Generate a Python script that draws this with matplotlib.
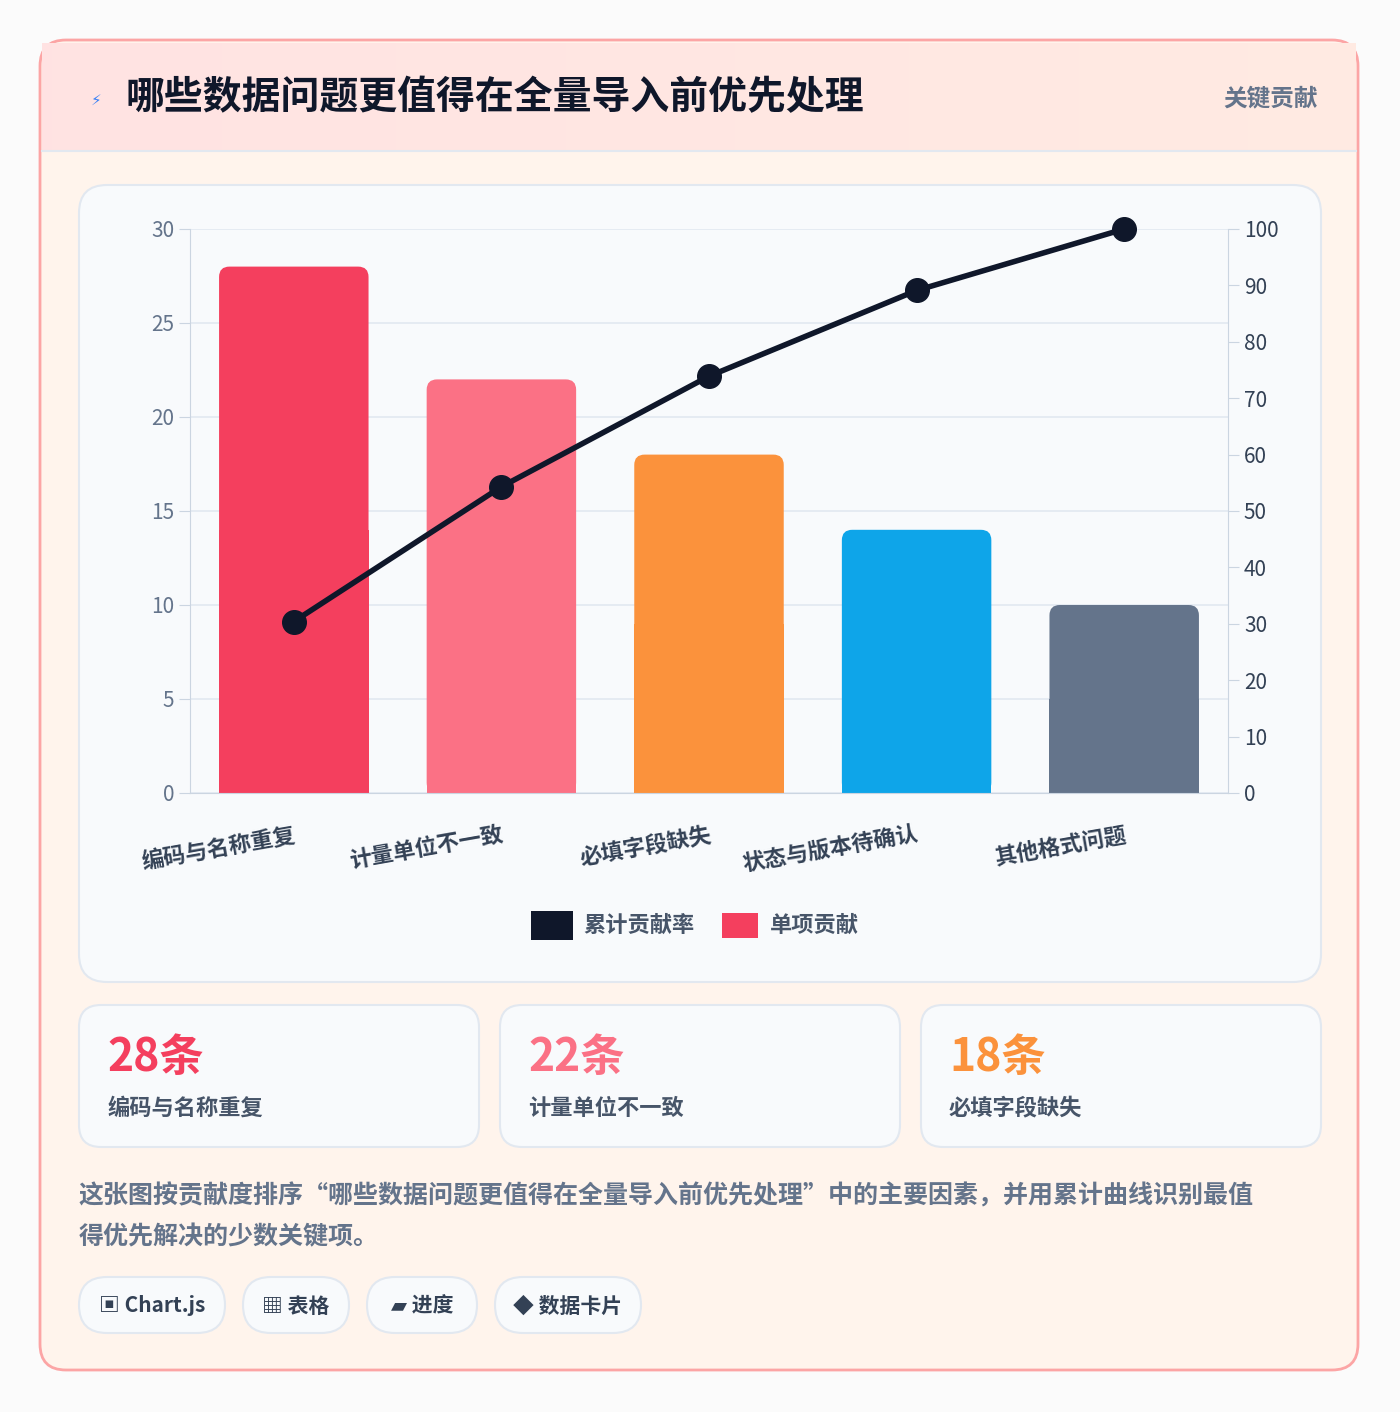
import matplotlib
matplotlib.use('Agg')
import matplotlib.pyplot as plt
from matplotlib.patches import FancyBboxPatch, Rectangle
import numpy as np

plt.rcParams['font.family'] = ['Noto Sans CJK SC', 'DejaVu Sans']

# data
categories = ['编码与名称重复', '计量单位不一致', '必填字段缺失', '状态与版本待确认', '其他格式问题']
counts = [28, 22, 18, 14, 10]
cumulative = [30.4, 54.3, 73.9, 89.1, 100.0]
bar_colors = ['#f43f5e', '#fb7185', '#fb923c', '#0ea5e9', '#64748b']
card_values = ['28条', '22条', '18条']
card_labels = ['编码与名称重复', '计量单位不一致', '必填字段缺失']
chips = ['▣ Chart.js', '▦ 表格', '▰ 进度', '◆ 数据卡片']

W, H = 1400, 1412
fig = plt.figure(figsize=(W / 100, H / 100), dpi=100)
fig.patch.set_facecolor('#fbfbfb')
bg = fig.add_axes([0, 0, 1, 1])
bg.set_xlim(0, W)
bg.set_ylim(H, 0)
bg.axis('off')


def rbox(x, y, w, h, r, fc, ec='none', lw=1.5, z=1):
    bg.add_patch(FancyBboxPatch((x + r, y + r), w - 2 * r, h - 2 * r,
                                boxstyle=f'round,pad={r}', fc=fc, ec=ec, lw=lw, zorder=z))


# outer card with soft gradient
rbox(40, 40, 1318, 1330, 26, '#fff4ec', '#fca5a5', 2)
grad = np.linspace(0, 1, 256).reshape(1, -1)
bg.imshow(np.dstack([np.ones((1, 256)), 0.89 + 0.03 * grad, 0.89 + 0.0 * grad]),
          extent=(42, 1356, 150, 43), aspect='auto', zorder=1.5)
bg.plot([42, 1356], [151, 151], color='#e2e8f0', lw=1.5, zorder=2)
bg.text(96, 100, '⚡', fontsize=11, color='#3b82f6', ha='center', va='center', zorder=3,
        family=['DejaVu Sans'])
bg.text(125, 98, '哪些数据问题更值得在全量导入前优先处理', fontsize=28, fontweight='bold',
        color='#0f172a', va='center', zorder=3)
bg.text(1318, 98, '关键贡献', fontsize=17, fontweight='bold', color='#64748b',
        ha='right', va='center', zorder=3)

# chart card
rbox(79, 185, 1242, 797, 28, '#f8fafc', '#e2e8f0', 1.5)

ax = fig.add_axes([190 / W, 1 - 793 / H, 1038 / W, 564 / H])
ax.set_facecolor('none')
x = np.arange(len(categories))
ax.set_xlim(-0.5, len(categories) - 0.5)
ax.set_ylim(0, 30)
ax.set_yticks(range(0, 31, 5))
ax.grid(axis='y', color='#e2e8f0', lw=1.2)
ax.set_axisbelow(True)
for s in ['top', 'right']:
    ax.spines[s].set_visible(False)
ax.spines['left'].set_color('#cbd5e1')
ax.spines['bottom'].set_color('#cbd5e1')
ax.tick_params(axis='y', colors='#64748b', labelsize=15, length=8, color='#cbd5e1')
ax.tick_params(axis='x', length=0)
bw = 0.72
r = 0.05
for xi, v, c in zip(x, counts, bar_colors):
    ax.add_patch(FancyBboxPatch((xi - bw / 2 + r, r * 11), bw - 2 * r, v - 2 * r * 11,
                                boxstyle=f'round,pad={r}', mutation_aspect=11,
                                fc=c, ec='none', zorder=2))
    ax.add_patch(Rectangle((xi - bw / 2, 0), bw, v / 2, fc=c, ec='none', zorder=2))
ax.set_xticks(x)
ax.set_xticklabels(categories, rotation=10, ha='right', rotation_mode='anchor',
                   fontsize=16, fontweight='bold', color='#334155')
for lbl in ax.get_xticklabels():
    lbl.set_x(0)
ax.tick_params(axis='x', pad=22)

ax2 = ax.twinx()
ax2.set_ylim(0, 100)
ax2.set_yticks(range(0, 101, 10))
for s in ['top', 'left', 'bottom']:
    ax2.spines[s].set_visible(False)
ax2.spines['right'].set_color('#cbd5e1')
ax2.tick_params(axis='y', colors='#334155', labelsize=15, length=8, color='#cbd5e1')
ax2.plot(x, cumulative, color='#0f172a', lw=4, marker='o', ms=17, zorder=5, clip_on=False)

# legend
bg.add_patch(Rectangle((531, 911), 42, 29, fc='#0f172a', zorder=3))
bg.text(583, 925, '累计贡献率', fontsize=16, fontweight='bold', color='#475569', va='center', zorder=3)
bg.add_patch(Rectangle((722, 913), 36, 25, fc='#f43f5e', zorder=3))
bg.text(770, 925, '单项贡献', fontsize=16, fontweight='bold', color='#475569', va='center', zorder=3)

# stat cards
for i, (val, lab) in enumerate(zip(card_values, card_labels)):
    cx = 79 + i * 421
    rbox(cx, 1005, 400, 142, 22, '#f8fafc', '#e2e8f0', 1.5)
    bg.text(cx + 28, 1058, val, fontsize=32, fontweight='bold', color=bar_colors[i], va='center', zorder=3)
    bg.text(cx + 28, 1108, lab, fontsize=16, fontweight='bold', color='#475569', va='center', zorder=3)

bg.text(79, 1196, '这张图按贡献度排序“哪些数据问题更值得在全量导入前优先处理”中的主要因素，并用累计曲线识别最值',
        fontsize=18, fontweight='bold', color='#64748b', va='center', zorder=3)
bg.text(79, 1237, '得优先解决的少数关键项。', fontsize=18, fontweight='bold', color='#64748b',
        va='center', zorder=3)

# chips
chip_x = [79, 243, 367, 495]
chip_w = [146, 106, 110, 146]
for cx, cw, t in zip(chip_x, chip_w, chips):
    rbox(cx, 1277, cw, 56, 28, '#f8fafc', '#e2e8f0', 1.5)
    bg.text(cx + cw / 2, 1306, t, fontsize=15, fontweight='bold', color='#334155',
            ha='center', va='center', zorder=3, family=['Noto Sans CJK SC', 'DejaVu Sans'])

fig.savefig('out.png', dpi=100, facecolor=fig.get_facecolor())
